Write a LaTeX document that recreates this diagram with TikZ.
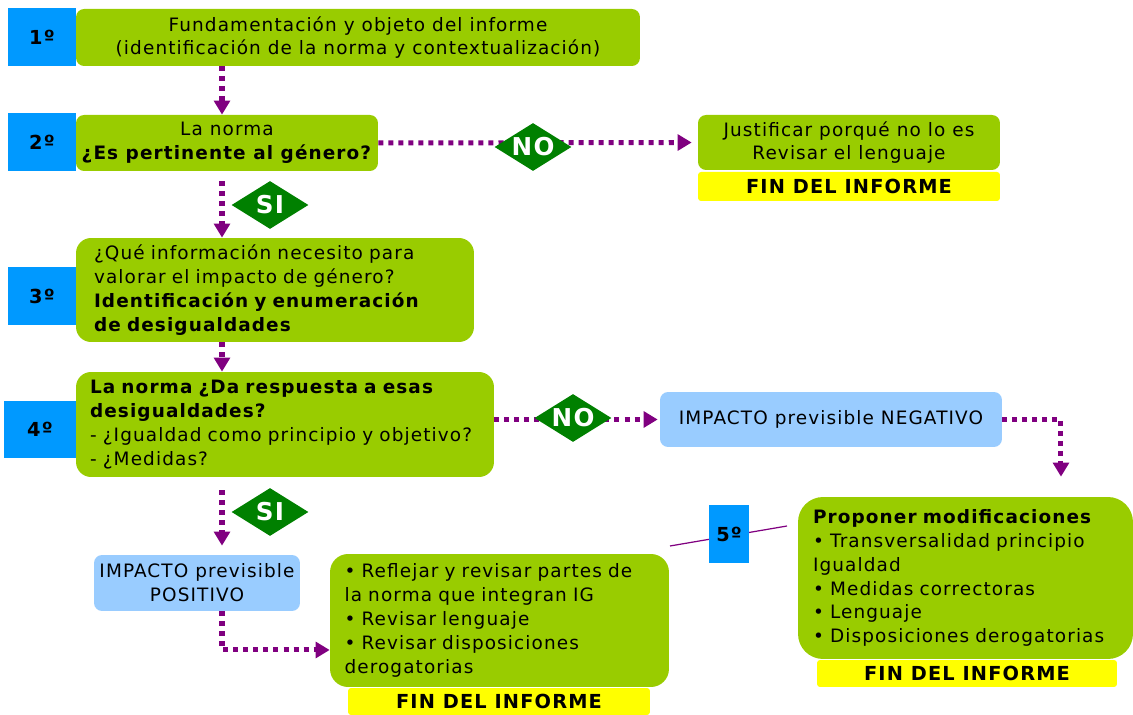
\documentclass[tikz,border=0pt]{standalone}
\usepackage{fontspec}
\setmainfont{DejaVu Sans}[LetterSpace=6]
\usetikzlibrary{arrows.meta, positioning, shapes.geometric, calc}
\definecolor{boxgreen}{HTML}{99CC00}
\definecolor{stepblue}{HTML}{0099FF}
\definecolor{lightblue}{HTML}{99CCFF}
\definecolor{finyellow}{HTML}{FFFF00}
\definecolor{decgreen}{HTML}{008000}
\definecolor{flowpurple}{HTML}{800080}
\newcommand{\FIN}{FIN DEL INFORME}

\begin{document}
\begin{tikzpicture}[
                x=0.02cm, y=-0.02cm,
                every node/.style={font=\fontsize{10.5}{13.6}\selectfont},
                stepnum/.style={fill=stepblue, inner sep=0pt, minimum width=1.36cm, minimum height=1.16cm, font=\fontsize{11}{13}\selectfont\bfseries},
                greenbox/.style={fill=boxgreen, rounded corners=0.16cm, inner sep=0pt, align=center},
                textbox/.style={fill=boxgreen, inner xsep=0.36cm, inner ysep=0pt, align=left},
                bluebox/.style={fill=lightblue, rounded corners=0.16cm, inner sep=0pt, align=center},
                finbox/.style={fill=finyellow, rounded corners=0.06cm, inner sep=0pt, minimum height=0.56cm, font=\fontsize{11}{13}\selectfont\bfseries},
                decision/.style={diamond, fill=decgreen, text=white, inner sep=0pt, shape aspect=1.6, minimum width=1.54cm, minimum height=0.96cm, font=\fontsize{14}{16}\selectfont\bfseries},
                flow/.style={flowpurple, line width=2.85pt, dash pattern=on 2.85pt off 2.85pt, -{Triangle[width=9pt, length=8pt]}}
            ]
            \useasboundingbox (0,0) rectangle (1133,715);
            \coordinate (spine) at (222,0);
            % main column
            \node[greenbox, minimum width=11.28cm, minimum height=1.14cm] (b1) at (358,37.5) {Fundamentación y objeto del informe\\(identificación de la norma y contextualización)};
            \node[greenbox, minimum width=6.04cm, minimum height=1.12cm] (b2) at (227,143) {La norma\\\textbf{¿Es pertinente al género?}};
            \node[textbox, rounded corners=0.3cm, text width=7.24cm, minimum height=2.08cm] (b3) at (275,290) {¿Qué información necesito para\\valorar el impacto de género?\\\textbf{Identificación y enumeración}\\\textbf{de desigualdades}};
            \node[textbox, rounded corners=0.3cm, inner xsep=0.28cm, text width=7.8cm, minimum height=2.1cm] (b4) at (285,424.5) {\textbf{La norma ¿Da respuesta a esas}\\\textbf{desigualdades?}\\- ¿Igualdad como principio y objetivo?\\- ¿Medidas?};
            \node[bluebox, minimum width=4.12cm, minimum height=1.12cm] (pos) at (197,583) {IMPACTO previsible\\POSITIVO};
            \node[textbox, rounded corners=0.36cm, inner xsep=0.29cm, text width=6.2cm, minimum height=2.66cm] (refl) at (499.5,620.5) {• Reflejar y revisar partes de\\la norma que integran IG\\• Revisar lenguaje\\• Revisar disposiciones\\derogatorias};
            \node[finbox, minimum width=6.04cm, minimum height=0.54cm] (fin2) at (499,701.5) {\FIN};
            % right column
            \node[greenbox, minimum width=6.04cm, minimum height=1.1cm] (just) at (849,142.5) {Justificar porqué no lo es\\Revisar el lenguaje};
            \node[finbox, minimum width=6.04cm, minimum height=0.58cm] (fin1) at (849,186.5) {\FIN};
            \node[bluebox, minimum width=6.84cm, minimum height=1.1cm] (neg) at (831,419.5) {IMPACTO previsible NEGATIVO};
            \node[textbox, rounded corners=0.5cm, inner xsep=0.3cm, text width=6.1cm, minimum height=3.24cm] (prop) at (965.5,578) {\textbf{Proponer modificaciones}\\• Transversalidad principio\\Igualdad\\• Medidas correctoras\\• Lenguaje\\• Disposiciones derogatorias};
            \node[finbox, minimum width=6cm, minimum height=0.54cm] (fin3) at (967,673.5) {\FIN};
            % step numbers
            \node[stepnum] (s1) at (42,37) {1º};
            \node[stepnum] (s2) at (42,142.5) {2º};
            \node[stepnum] (s3) at (42,296) {3º};
            \node[stepnum, minimum width=1.44cm] (s4) at (40,429.5) {4º};
            \coordinate (tickL) at (670,546);
            \coordinate (tickR) at (787,526);
            \draw[flowpurple, line width=0.7pt] (tickL) -- (tickR);
            \node[stepnum, minimum width=0.8cm] (s5) at (729,534) {5º};
            % connectors
            \draw[flow] (b1.south -| spine) -- (b2.north -| spine);
            \draw[flow, shorten <=0.2cm] (b2.south -| spine) -- (b3.north -| spine);
            \draw[flow] (b3.south -| spine) -- (b4.north -| spine);
            \draw[flow, shorten <=0.26cm, shorten >=0.18cm] (b4.south -| spine) -- (pos.north -| spine);
            \draw[flow] (pos.south -| spine) |- ([yshift=-0.59cm]refl.west);
            \draw[flow, shorten >=0.12cm] (b2.east) -- (just.west);
            \draw[flow, shorten >=0.04cm] (b4.east |- neg.west) -- (neg.west);
            \draw[flow, shorten >=0.4cm] (neg.east) -| ([xshift=1.91cm]prop.north);
            % decisions
            \node[decision] (no1) at (533,147) {NO};
            \node[decision] (si1) at (270,205) {SI};
            \node[decision] (no2) at (573,418) {NO};
            \node[decision] (si2) at (270,512) {SI};
        \end{tikzpicture}
\end{document}
